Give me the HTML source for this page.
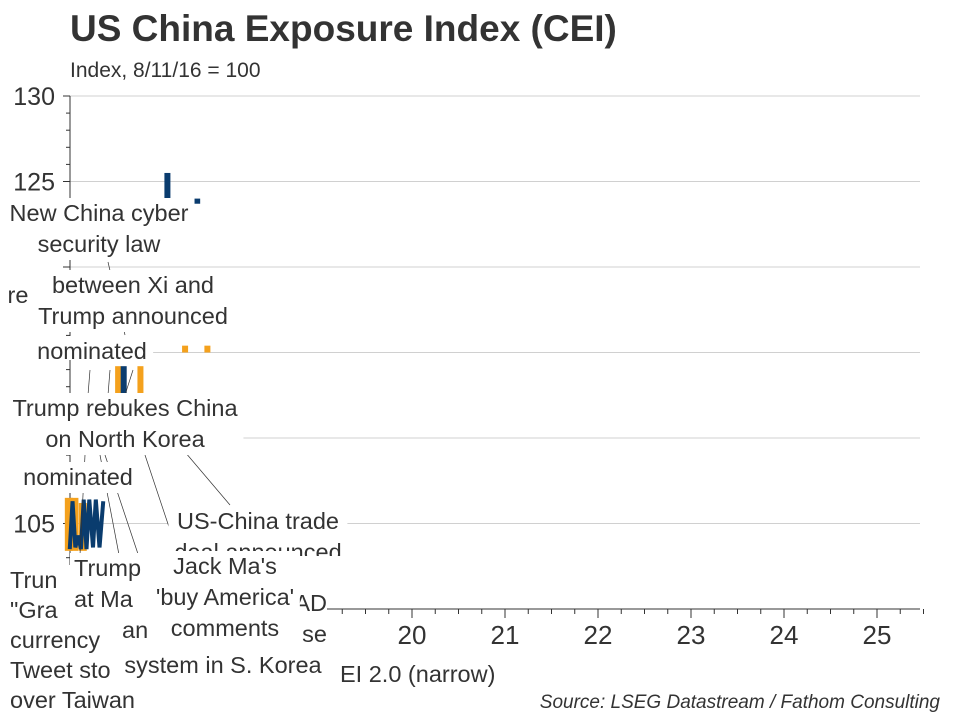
<!DOCTYPE html>
<html><head><meta charset="utf-8"><style>
body{margin:0;width:960px;height:720px;background:#fff;overflow:hidden;position:relative;font-family:"Liberation Sans",sans-serif;color:#333}
.t{position:absolute;background:#fff;font-size:23.5px;line-height:31px;text-align:center;white-space:nowrap}
.c{transform:translateX(-50%);padding:0 6px}
</style></head><body>
<svg id="chart" width="960" height="720" style="position:absolute;left:0;top:0">
<text x="70" y="41" font-size="37" font-weight="bold" fill="#333" font-family="Liberation Sans">US China Exposure Index (CEI)</text>
<text x="70" y="77" font-size="21" fill="#333" font-family="Liberation Sans">Index, 8/11/16 = 100</text>
<g id="grid"></g><g id="marks"></g>
</svg>
<div class="t c" style="left:99px;top:198px">New China cyber<br>security law</div>
<div class="t c" style="left:133px;top:270px">between Xi and<br>Trump announced</div>
<div class="t" style="left:6px;top:280px;width:24px">re</div>
<div class="t c" style="left:92px;top:336px;height:24px;overflow:hidden">nominated</div>
<div class="t c" style="left:125px;top:393px">Trump rebukes China<br>on North Korea</div>
<div class="t c" style="left:78px;top:462px">nominated</div>
<div class="t c" style="left:258px;top:506px;height:50px;overflow:hidden">US-China trade<br>deal announced</div>
<div class="t" style="left:285px;top:588px;width:42px;text-align:right">AD<br>se</div>
<div class="t" style="left:4px;top:565px;line-height:30px;text-align:left;padding-left:6px">Trun<br>"Gra<br>currency<br>Tweet sto<br>over Taiwan</div>
<div class="t" style="left:70px;top:553px;width:80px;height:62px;text-align:left;padding-left:4px">Trump<br>at Ma</div>
<div class="t" style="left:116px;top:615px;width:40px;text-align:left;padding-left:6px">an</div>
<div class="t c" style="left:225px;top:551px">Jack Ma's<br>'buy America'<br>comments</div>
<div class="t c" style="left:223px;top:650px">system in S. Korea</div>
<div class="t" style="left:338px;top:659px;text-align:left;padding-left:2px">EI 2.0 (narrow)</div>
<div style="position:absolute;right:20px;top:692px;font-size:19px;font-style:italic">Source: LSEG Datastream / Fathom Consulting</div>
<script>
const yTicks=[100,105,110,115,120,125,130];
const yLabels=["105","125","130"];
const xYears=[20,21,22,23,24,25];
const blueDates=[16.32,16.35,16.38,16.41,16.44,16.47,16.5,16.53,16.57,16.6,16.64,16.68];
const blueValues=[103.5,106.3,103.6,104.3,103.5,106.4,103.5,106.4,103.6,106.4,103.6,106.3];
const orangeDates=[16.31,16.37,16.46];
const orangeValues=[106.5,106.5,106.2];
const barDates=[16.84,16.9,17.08,17.37,17.56,17.69,17.8];
const barLow=[112.5,112.6,112.5,124.0,115.0,123.7,115.0];
const barHigh=[114.2,114.2,114.2,125.5,115.4,124.0,115.4];
const barSeries=["o","b","o","b","o","b","o"];
const ns="http://www.w3.org/2000/svg";
const X=d=>412+(d-20)*93, Y=v=>609-(v-100)*17.1;
const grid=document.getElementById('grid'), marks=document.getElementById('marks');
function mk(tag,attrs,parent){const e=document.createElementNS(ns,tag);for(const k in attrs)e.setAttribute(k,attrs[k]);parent.appendChild(e);return e;}
yTicks.forEach(v=>{
  const l=mk('line',{x1:70,x2:920,y1:Y(v),y2:Y(v),stroke:v===100?'#333':'#d0d0d0','stroke-width':1},grid);
  
  
});
for(let v=100;v<=130;v+=1){
  const tk=mk('line',{x1:v%5===0?63:66,x2:70,y1:Y(v),y2:Y(v),stroke:'#333'},grid);
  
  
}
yLabels.forEach(s=>{
  const t=mk('text',{x:55,y:Y(+s)+9,'font-size':25,'text-anchor':'end',fill:'#333','font-family':'Liberation Sans'},grid);
  t.textContent=s;
  
  
});
const ax=mk('line',{x1:70,x2:70,y1:96,y2:609,stroke:'#333'},grid);


for(let d=16.25;d<=25.5;d+=0.25){
  const big=Math.abs(d-Math.round(d))<0.01;
  const t=mk('line',{x1:X(d),x2:X(d),y1:609,y2:big?618:614,stroke:'#333'},grid);
  
  
}
xYears.forEach(y=>{
  const t=mk('text',{x:X(y),y:644,'font-size':26,'text-anchor':'middle',fill:'#333','font-family':'Liberation Sans'},grid);
  t.textContent=String(y);
  
  
});
orangeDates.forEach((d,i)=>{
  const r=mk('rect',{x:X(d)-4,y:Y(orangeValues[i]),width:8,height:Y(103.4)-Y(orangeValues[i]),fill:'#f4a11d'},marks);
  
  
});
const p=mk('polyline',{points:blueDates.map((d,i)=>X(d)+','+Y(blueValues[i])).join(' '),fill:'none',stroke:'#0a3c6e','stroke-width':4},marks);


barDates.forEach((d,i)=>{
  const r=mk('rect',{x:X(d)-3,y:Y(barHigh[i]),width:6,height:Y(barLow[i])-Y(barHigh[i]),fill:barSeries[i]==='b'?'#0a3c6e':'#f4a11d'},marks);
  
  
});
[[108,262,125,335],[90,370,88,395],[110,370,108,395],[133,370,125,395],[85,455,80,555],[100,455,120,560],[105,455,140,560],[145,455,175,545],[185,452,230,505]].forEach(c=>{
  const l=mk('line',{x1:c[0],y1:c[1],x2:c[2],y2:c[3],stroke:'#333','stroke-width':0.7},marks);
  
  
});
</script>
</body></html>
